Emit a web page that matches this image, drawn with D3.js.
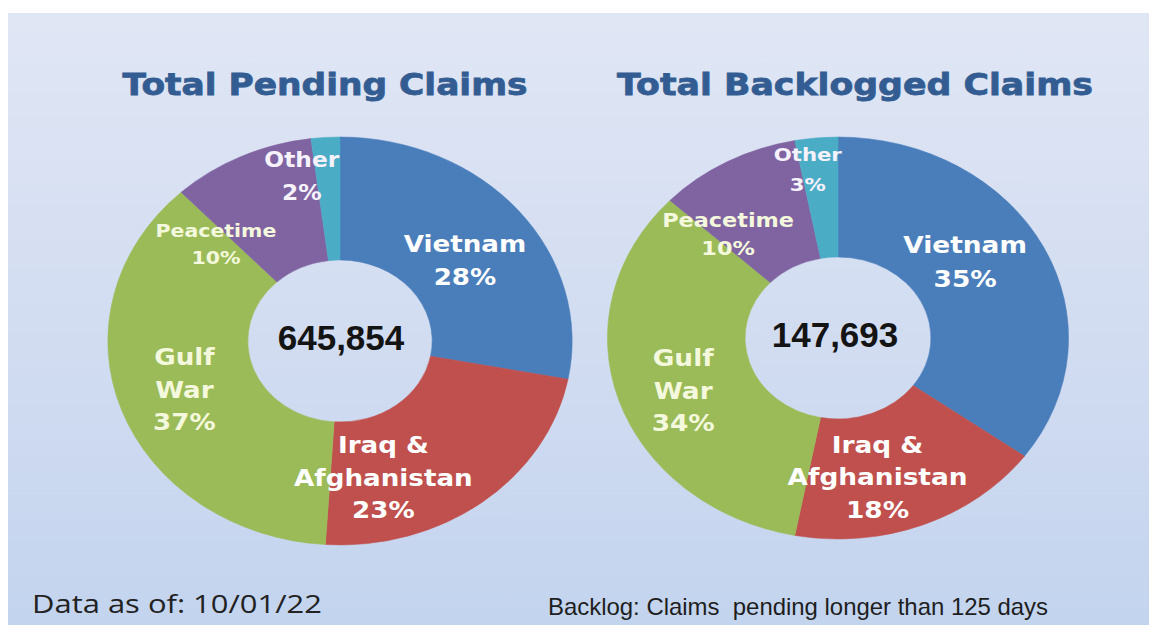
<!DOCTYPE html>
<html>
<head>
<meta charset="utf-8">
<script src="https://cdn.jsdelivr.net/npm/d3@7"></script>
<style>
  html, body { margin: 0; padding: 0; background: #ffffff; }
  svg { display: block; }
</style>
</head>
<body>
<svg id="chart" width="1149" height="625"></svg>
<script>
// ---- data ----
const categories = ["Vietnam", "Iraq & Afghanistan", "Gulf War", "Peacetime", "Other"];
const categoryLines = [["Vietnam"], ["Iraq &", "Afghanistan"], ["Gulf", "War"], ["Peacetime"], ["Other"]];
const pendingShares = [28, 23, 37, 10, 2];
const backlogShares = [35, 18, 34, 10, 3];
const pendingTotal = 645854;
const backlogTotal = 147693;
const titles = ["Total Pending Claims", "Total Backlogged Claims"];
const footLeft = "Data as of: 10/01/22";
const footRight = "Backlog: Claims  pending longer than 125 days";

// ---- styling ----
const sliceColors = ["#4a7ebb", "#c0504d", "#9bbb59", "#8064a2", "#4bacc6"];
const labelColors = ["#ffffff", "#ffffff", "#f4f8dc", "#f4f8dc", "#f6f2fb"];

const W = 1149, H = 625;
const svg = d3.select("#chart");

// panel background
const defs = svg.append("defs");
const grad = defs.append("linearGradient")
  .attr("id", "bg").attr("x1", 0).attr("y1", 0).attr("x2", 0).attr("y2", 1);
grad.append("stop").attr("offset", "0%").attr("stop-color", "#e0e6f4");
grad.append("stop").attr("offset", "55%").attr("stop-color", "#d1dcf1");
grad.append("stop").attr("offset", "100%").attr("stop-color", "#c3d4ee");

svg.append("rect").attr("x", 8).attr("y", 13)
  .attr("width", W - 8).attr("height", H - 13)
  .attr("fill", "url(#bg)");

// per-donut layout: centre, vertical radii, horizontal stretch, label nudges
const layouts = [
  {
    cx: 340, cy: 341, ro: 204, ri: 81, sx: 1.138,
    titleX: 325, titleW: 405,
    centerX: 341, centerY: 350,
    labels: [
      { dx: 0,   dy: 10,  size: 23,   lh: 33 },
      { dx: -56, dy: 24,  size: 23,   lh: 32.5 },
      { dx: -3,  dy: 0,   size: 23,   lh: 32.5 },
      { dx: -55, dy: 32,  size: 18,   lh: 27 },
      { dx: -28, dy: -23, size: 20.5, lh: 33 }
    ]
  },
  {
    cx: 838, cy: 338, ro: 201, ri: 81, sx: 1.147,
    titleX: 855, titleW: 476,
    centerX: 835, centerY: 347,
    labels: [
      { dx: -17, dy: -12, size: 23,   lh: 34 },
      { dx: -20, dy: 8,   size: 23,   lh: 32.5 },
      { dx: -1,  dy: 9,   size: 23,   lh: 32.5 },
      { dx: -32, dy: 20,  size: 19.5, lh: 28 },
      { dx: -15, dy: -28, size: 18.5, lh: 30 }
    ]
  }
];

const charts = [
  { values: pendingShares, total: pendingTotal, title: titles[0] },
  { values: backlogShares, total: backlogTotal, title: titles[1] }
];

const pie = d3.pie().sort(null).value(d => d.value);
const fmt = d3.format(",");

charts.forEach((c, ci) => {
  const L = layouts[ci];
  const rows = categories.map((name, i) => ({ name, value: c.values[i], i }));
  const arcs = pie(rows);

  const arc = d3.arc().innerRadius(L.ri).outerRadius(L.ro);
  const mid = (L.ri + L.ro) / 2;
  const labelArc = d3.arc().innerRadius(mid).outerRadius(mid);

  // title
  svg.append("text")
    .attr("x", L.titleX).attr("y", 95)
    .attr("text-anchor", "middle")
    .attr("font-family", "DejaVu Sans, sans-serif")
    .attr("font-weight", "bold")
    .attr("font-size", 31)
    .attr("fill", "#335d92")
    .attr("stroke", "#335d92")
    .attr("stroke-width", 0.8)
    .attr("textLength", L.titleW)
    .attr("lengthAdjust", "spacingAndGlyphs")
    .text(c.title);

  // donut, drawn on a circle and stretched horizontally
  const g = svg.append("g")
    .attr("transform", `translate(${L.cx},${L.cy}) scale(${L.sx},1)`);

  g.selectAll("path.slice")
    .data(arcs)
    .join("path")
    .attr("class", "slice")
    .attr("d", arc)
    .attr("fill", d => sliceColors[d.data.i])
    .attr("stroke", d => sliceColors[d.data.i])
    .attr("stroke-width", 0.5);

  // slice labels
  const lg = svg.append("g");
  arcs.forEach(d => {
    const lay = L.labels[d.data.i];
    const [ux, uy] = labelArc.centroid(d);
    const px = L.cx + ux * L.sx + lay.dx;
    const py = L.cy + uy + lay.dy;
    const lines = categoryLines[d.data.i].concat([d.data.value + "%"]);
    const n = lines.length;
    const t = lg.append("g")
      .attr("transform", `translate(${px},${py}) scale(${L.sx},1)`)
      .append("text")
      .attr("text-anchor", "middle")
      .attr("font-family", "DejaVu Sans, sans-serif")
      .attr("font-weight", "bold")
      .attr("font-size", lay.size)
      .attr("fill", labelColors[d.data.i]);
    lines.forEach((s, k) => {
      t.append("tspan")
        .attr("x", 0)
        .attr("y", (k - (n - 1) / 2) * lay.lh + 0.36 * lay.size)
        .text(s);
    });
  });

  // total in the hole
  svg.append("text")
    .attr("x", L.centerX).attr("y", L.centerY)
    .attr("text-anchor", "middle")
    .attr("font-family", "Liberation Sans, Arial, sans-serif")
    .attr("font-weight", "bold")
    .attr("font-size", 35)
    .attr("fill", "#141414")
    .text(fmt(c.total));
});

// footers
svg.append("text")
  .attr("x", 32).attr("y", 613)
  .attr("font-family", "Open Sans, sans-serif")
  .attr("font-size", 26)
  .attr("fill", "#222222")
  .attr("textLength", 290)
  .attr("lengthAdjust", "spacingAndGlyphs")
  .text(footLeft);

svg.append("text")
  .attr("x", 548).attr("y", 615)
  .attr("font-family", "Liberation Sans, Arial, sans-serif")
  .attr("font-size", 24)
  .attr("fill", "#1e1e1e")
  .attr("textLength", 500)
  .attr("lengthAdjust", "spacingAndGlyphs")
  .style("white-space", "pre")
  .text(footRight);
</script>
</body>
</html>
